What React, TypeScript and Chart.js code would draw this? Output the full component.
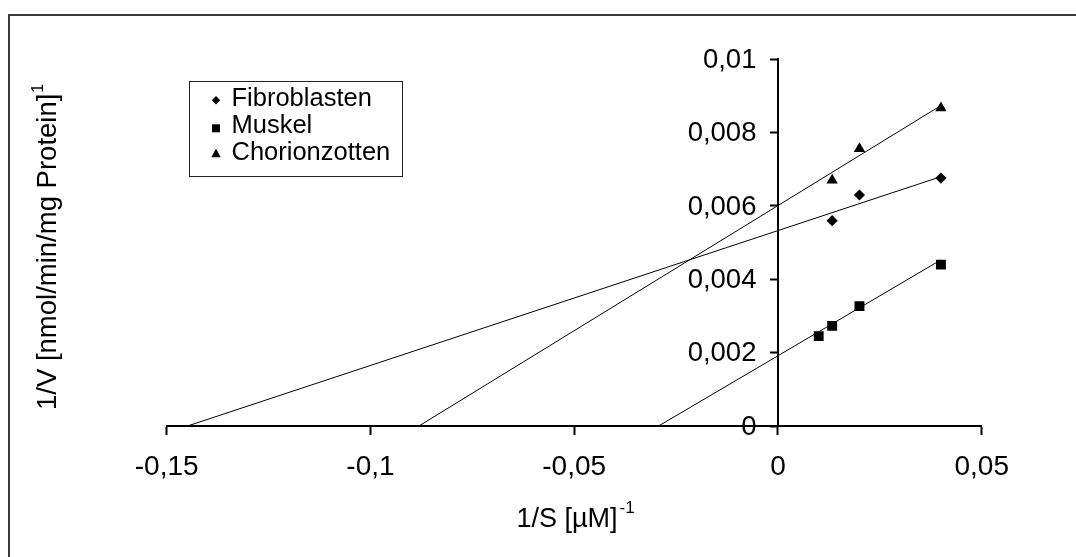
import React, { useEffect, useRef } from 'react';
import { Chart, registerables } from 'chart.js';

Chart.register(...registerables);

// ---- data ----
const seriesNames = ['Fibroblasten', 'Muskel', 'Chorionzotten'];
const seriesStyles = ['rectRot', 'rect', 'triangle'];
const seriesRadius = [5.6, 7, 6.6];

const fibX = [0.0133, 0.02, 0.04];
const fibY = [0.0056, 0.0063, 0.00676];
const musX = [0.01, 0.0133, 0.02, 0.04];
const musY = [0.00245, 0.00273, 0.00327, 0.0044];
const choX = [0.0133, 0.02, 0.04];
const choY = [0.0067, 0.00756, 0.00867];

// trend lines (x-intercept to last point)
const fibLineX = [-0.1449, 0.04];
const fibLineY = [0, 0.0068];
const musLineX = [-0.0293, 0.04];
const musLineY = [0, 0.00453];
const choLineX = [-0.0881, 0.04];
const choLineY = [0, 0.00874];

const xTicks = [-0.15, -0.1, -0.05, 0, 0.05];
const yTicks = [0, 0.002, 0.004, 0.006, 0.008, 0.01];

const xTitle = '1/S [µM]';
const xTitleSup = '-1';
const yTitle = '1/V [nmol/min/mg Protein]';
const yTitleSup = '1';

const FONT = "'Liberation Sans', Arial, sans-serif";

const zip = (xs: number[], ys: number[]) => xs.map((x, i) => ({ x, y: ys[i] }));
const fmt = (v: number) => String(Number(v.toFixed(5))).replace('.', ',');

function drawMarker(ctx: CanvasRenderingContext2D, style: string, x: number, y: number, s: number) {
  ctx.beginPath();
  if (style === 'rectRot') {
    ctx.moveTo(x, y - s);
    ctx.lineTo(x + s, y);
    ctx.lineTo(x, y + s);
    ctx.lineTo(x - s, y);
  } else if (style === 'rect') {
    ctx.rect(x - s, y - s, 2 * s, 2 * s);
  } else {
    ctx.moveTo(x, y - s);
    ctx.lineTo(x + s * 0.95, y + s * 0.75);
    ctx.lineTo(x - s * 0.95, y + s * 0.75);
  }
  ctx.closePath();
  ctx.fill();
}

const decorPlugin = {
  id: 'decor',
  afterDraw(chart: any) {
    const ctx: CanvasRenderingContext2D = chart.ctx;
    const xs = chart.scales.x;
    const ys = chart.scales.y;
    ctx.save();
    // outer frame
    ctx.strokeStyle = '#3a3a3a';
    ctx.lineWidth = 2;
    ctx.strokeRect(9, 15, 1200, 700);

    ctx.fillStyle = '#000';

    // y tick labels (left of the axis at x = 0)
    ctx.font = `27.5px ${FONT}`;
    ctx.textAlign = 'right';
    ctx.textBaseline = 'middle';
    const axisX = xs.getPixelForValue(0);
    ys.ticks.forEach((t: any) => {
      ctx.fillText(fmt(t.value), axisX - 21.5, ys.getPixelForValue(t.value) + 1);
    });

    // x title
    ctx.textBaseline = 'alphabetic';
    ctx.textAlign = 'left';
    ctx.font = `27px ${FONT}`;
    const xw = ctx.measureText(xTitle).width;
    const xStart = 516.5;
    ctx.fillText(xTitle, xStart, 527);
    ctx.font = `17px ${FONT}`;
    ctx.fillText(xTitleSup, xStart + xw + 2, 513);

    // y title (rotated)
    ctx.save();
    ctx.translate(55.5, 410);
    ctx.rotate(-Math.PI / 2);
    ctx.font = `27.5px ${FONT}`;
    const yw = ctx.measureText(yTitle).width;
    ctx.fillText(yTitle, 0, 0);
    ctx.font = `16px ${FONT}`;
    ctx.fillText(yTitleSup, yw + 1, -13);
    ctx.restore();

    // legend
    const lx = 189, ly = 81, lw = 213, lh = 95;
    ctx.fillStyle = '#fff';
    ctx.fillRect(lx, ly, lw, lh);
    ctx.strokeStyle = '#222';
    ctx.lineWidth = 1;
    ctx.strokeRect(lx + 0.5, ly + 0.5, lw, lh);
    ctx.fillStyle = '#000';
    ctx.font = `25.5px ${FONT}`;
    const baselines = [106, 133, 159.5];
    const markerY = [100.3, 128.3, 153.5];
    const markerS = [4.2, 4, 5];
    seriesNames.forEach((name, i) => {
      drawMarker(ctx, seriesStyles[i], 216, markerY[i], markerS[i]);
      ctx.fillText(name, 231.5, baselines[i]);
    });
    ctx.restore();
  },
};

export default function App() {
  const ref = useRef<HTMLCanvasElement | null>(null);

  useEffect(() => {
    if (!ref.current) return;
    const pointSet = (label: string, data: any[], i: number) => ({
      type: 'scatter' as const,
      label,
      data,
      pointStyle: seriesStyles[i],
      pointRadius: seriesRadius[i],
      pointBackgroundColor: '#000',
      pointBorderColor: '#000',
      pointBorderWidth: 0,
      showLine: false,
    });
    const lineSet = (data: any[]) => ({
      type: 'line' as const,
      label: '',
      data,
      borderColor: '#000',
      borderWidth: 1,
      pointRadius: 0,
      fill: false,
      tension: 0,
    });
    const chart = new Chart(ref.current, {
      type: 'scatter',
      data: {
        datasets: [
          lineSet(zip(fibLineX, fibLineY)),
          lineSet(zip(musLineX, musLineY)),
          lineSet(zip(choLineX, choLineY)),
          pointSet(seriesNames[0], zip(fibX, fibY), 0),
          pointSet(seriesNames[1], zip(musX, musY), 1),
          pointSet(seriesNames[2], zip(choX, choY), 2),
        ] as any,
      },
      options: {
        animation: false,
        responsive: false,
        devicePixelRatio: 1,
        layout: { padding: { left: 166.7, right: 94.3, top: 59.3, bottom: 131 } },
        plugins: { legend: { display: false }, tooltip: { enabled: false } },
        scales: {
          x: {
            type: 'linear',
            position: { y: 0 } as any,
            min: -0.15,
            max: 0.05,
            afterBuildTicks: (s: any) => { s.ticks = xTicks.map((v) => ({ value: v })); },
            grid: { drawOnChartArea: false, drawTicks: true, tickLength: 8, tickWidth: 2, tickColor: '#000' },
            border: { display: true, color: '#000', width: 2 },
            ticks: {
              color: '#000',
              font: { family: FONT, size: 28 },
              padding: 16,
              maxRotation: 0,
              callback: (v: any) => fmt(Number(v)),
            },
          },
          y: {
            type: 'linear',
            position: { x: 0 } as any,
            min: 0,
            max: 0.01,
            afterBuildTicks: (s: any) => { s.ticks = yTicks.map((v) => ({ value: v })); },
            grid: { drawOnChartArea: false, drawTicks: true, tickLength: 7, tickWidth: 2, tickColor: '#000' },
            border: { display: true, color: '#000', width: 2 },
            ticks: { display: false },
          },
        },
      },
      plugins: [decorPlugin],
    });
    return () => chart.destroy();
  }, []);

  return (
    <div style={{ position: 'fixed', left: 0, top: 0, width: 1076, height: 557, background: '#fff' }}>
      <canvas ref={ref} width={1076} height={557} style={{ display: 'block', width: 1076, height: 557 }} />
    </div>
  );
}
